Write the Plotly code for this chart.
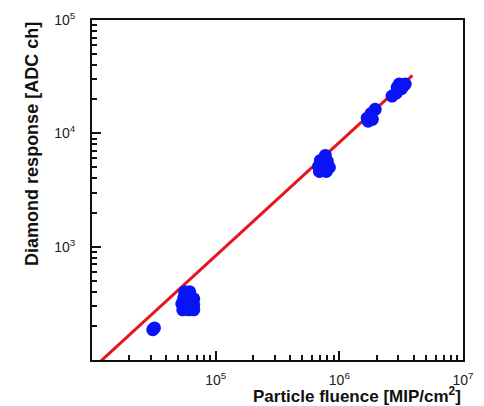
import plotly.graph_objects as go

# ---- data ----
fluence_a = [3.1e4, 3.2e4]
response_a = [185, 192]

fluence_b = [56200, 61700, 55200, 61700, 66500, 53200, 59400, 66500, 54200, 60500, 66500,
             58000, 63000, 57000]
response_b = [400, 400, 354, 354, 347, 313, 313, 307, 277, 277, 277,
              375, 330, 290]

fluence_c = [771000, 703000, 800000, 678000, 757000, 830000, 690000, 785000, 740000]
response_c = [6380, 5770, 5650, 5100, 5000, 5000, 4610, 4610, 5400]

fluence_d = [1.95e6, 1.81e6, 1.68e6, 1.85e6, 1.71e6, 1.78e6]
response_d = [16300, 15000, 13600, 13300, 12800, 14200]

fluence_e = [2.67e6, 2.88e6, 3.05e6, 3.28e6, 3.05e6, 3.41e6, 2.94e6, 3.18e6]
response_e = [21300, 22600, 24500, 26100, 27200, 27200, 25500, 24800]

fit_x = [1.0e4, 3.9e6]
fit_y = [83, 32400]

x_tickvals = [1e5, 1e6, 1e7]
x_ticktext = ["10<sup>5</sup>", "10<sup>6</sup>", "10<sup>7</sup>"]
y_tickvals = [1e3, 1e4, 1e5]
y_ticktext = ["10<sup>3</sup>", "10<sup>4</sup>", "10<sup>5</sup>"]

fluence_all = fluence_a + fluence_b + fluence_c + fluence_d + fluence_e
response_all = response_a + response_b + response_c + response_d + response_e

# minor tick positions (2..9 in every decade)
x_minor = [m * 10 ** d for d in range(4, 7) for m in range(2, 10)]
y_minor = [m * 10 ** d for d in range(2, 5) for m in range(2, 10)]

fig = go.Figure()
fig.add_trace(go.Scatter(
    x=fit_x, y=fit_y, mode="lines",
    line=dict(color="#e8161c", width=3), showlegend=False, hoverinfo="skip"))
fig.add_trace(go.Scatter(
    x=fluence_all, y=response_all, mode="markers",
    marker=dict(color="#0814f5", size=13, line=dict(width=0)),
    showlegend=False))

font = "Liberation Sans, Arial, Helvetica, sans-serif"
axis_common = dict(
    type="log", showgrid=False, zeroline=False, automargin=False,
    showline=True, linecolor="#111", linewidth=2, mirror=True,
    ticks="inside", ticklen=9, tickwidth=1.5, tickcolor="#111",
    tickfont=dict(family=font, size=14, color="#222"),
    tickmode="array",
)
fig.update_xaxes(**axis_common, range=[4, 7], tickvals=x_tickvals, ticktext=x_ticktext,
                 ticklabelstandoff=6,
                 minor=dict(tickmode="array", tickvals=x_minor, ticks="inside",
                            ticklen=5, tickwidth=1.5, tickcolor="#111"))
fig.update_yaxes(**axis_common, range=[2, 5], tickvals=y_tickvals, ticktext=y_ticktext,
                 ticklabelstandoff=12,
                 minor=dict(tickmode="array", tickvals=y_minor, ticks="inside",
                            ticklen=5, tickwidth=1.5, tickcolor="#111"))

fig.add_annotation(
    text="<b>Particle fluence [MIP/cm<sup>2</sup>]</b>", xref="paper", yref="paper",
    x=1.0, y=-0.104, xanchor="right", yanchor="middle", showarrow=False,
    font=dict(family=font, size=17, color="#111"))
fig.add_annotation(
    text="<b>Diamond response [ADC ch]</b>", xref="paper", yref="paper",
    x=-0.162, y=1.0, xanchor="center", yanchor="top", textangle=-90, showarrow=False,
    font=dict(family=font, size=18, color="#111"))

fig.update_layout(
    width=484, height=406,
    margin=dict(l=92, r=21, t=20, b=46, autoexpand=False),
    paper_bgcolor="white", plot_bgcolor="white",
)
fig.write_html("out.html", config={"displayModeBar": False},
               post_script="document.body.style.margin='0px';document.body.style.overflow='hidden';")
